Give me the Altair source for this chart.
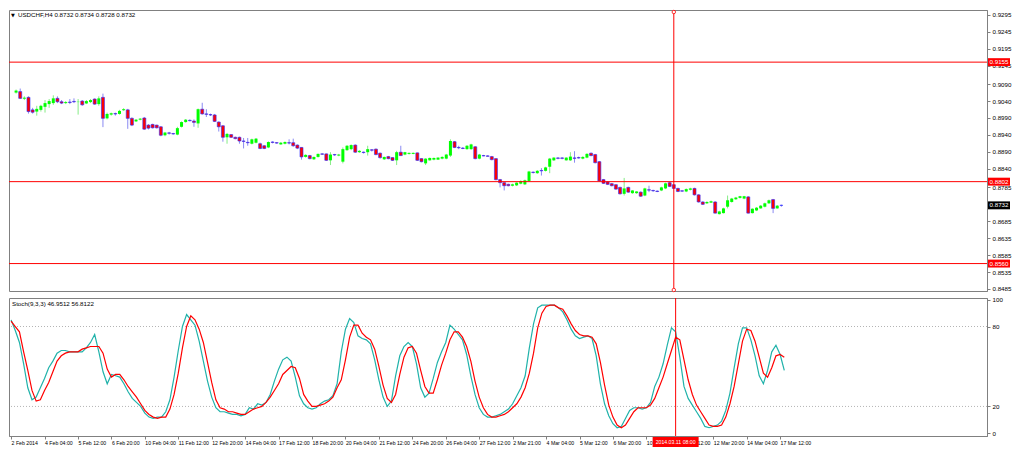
import altair as alt
import pandas as pd

# ---------------- data ----------------
OPEN = [0.9065,0.9068,0.9047,0.9051,0.9014,0.9009,0.9014,0.9023,0.9031,0.9034,
        0.9048,0.9038,0.9034,0.9037,0.9039,0.9037,0.9040,0.9033,0.9037,0.9046,
        0.9031,0.9051,0.8989,0.9000,0.9003,0.9002,0.9013,0.9014,0.8989,0.8980,
        0.8985,0.8990,0.8969,0.8971,0.8969,0.8964,0.8939,0.8946,0.8944,0.8941,
        0.8964,0.8978,0.8983,0.8981,0.8974,0.9016,0.9002,0.9000,0.8999,0.8978,
        0.8967,0.8933,0.8941,0.8933,0.8933,0.8922,0.8918,0.8914,0.8917,0.8914,
        0.8908,0.8903,0.8919,0.8917,0.8912,0.8914,0.8917,0.8917,0.8910,0.8903,
        0.8875,0.8879,0.8868,0.8875,0.8884,0.8884,0.8865,0.8882,0.8879,0.8861,
        0.8895,0.8898,0.8910,0.8889,0.8889,0.8889,0.8896,0.8898,0.8886,0.8868,
        0.8876,0.8873,0.8865,0.8889,0.8882,0.8884,0.8884,0.8887,0.8870,0.8856,
        0.8865,0.8867,0.8867,0.8870,0.8870,0.8879,0.8920,0.8903,0.8901,0.8898,
        0.8898,0.8905,0.8870,0.8879,0.8878,0.8876,0.8870,0.8808,0.8799,0.8794,
        0.8790,0.8791,0.8796,0.8794,0.8804,0.8830,0.8827,0.8835,0.8834,0.8846,
        0.8865,0.8872,0.8872,0.8865,0.8865,0.8872,0.8873,0.8870,0.8873,0.8886,
        0.8882,0.8861,0.8808,0.8801,0.8796,0.8793,0.8785,0.8766,0.8785,0.8768,
        0.8768,0.8771,0.8761,0.8778,0.8776,0.8774,0.8776,0.8782,0.8799,0.8793,
        0.8782,0.8775,0.8773,0.8778,0.8782,0.8763,0.8742,0.8738,0.8740,0.8742,
        0.8706,0.8709,0.8728,0.8742,0.8750,0.8754,0.8752,0.8757,0.8709,0.8717,
        0.8723,0.8728,0.8738,0.8749,0.8723,0.8732]
HIGH = [0.9074,0.9077,0.9054,0.9054,0.9020,0.9026,0.9029,0.9043,0.9046,0.9057,
        0.9054,0.9043,0.9040,0.9046,0.9048,0.9046,0.9043,0.9043,0.9046,0.9048,
        0.9054,0.9062,0.9006,0.9006,0.9006,0.9014,0.9019,0.9017,0.8992,0.8987,
        0.8990,0.8993,0.8972,0.8973,0.8970,0.8966,0.8949,0.8949,0.8946,0.8964,
        0.8980,0.8987,0.8986,0.8986,0.9018,0.9035,0.9016,0.9003,0.9002,0.8980,
        0.8969,0.8946,0.8942,0.8935,0.8935,0.8931,0.8931,0.8929,0.8931,0.8917,
        0.8910,0.8921,0.8921,0.8919,0.8919,0.8921,0.8927,0.8929,0.8912,0.8904,
        0.8883,0.8881,0.8876,0.8885,0.8886,0.8885,0.8889,0.8884,0.8884,0.8903,
        0.8910,0.8912,0.8912,0.8895,0.8891,0.8908,0.8898,0.8900,0.8888,0.8876,
        0.8878,0.8874,0.8893,0.8908,0.8890,0.8888,0.8888,0.8888,0.8871,0.8871,
        0.8873,0.8873,0.8874,0.8877,0.8884,0.8927,0.8922,0.8908,0.8904,0.8910,
        0.8914,0.8907,0.8884,0.8881,0.8880,0.8878,0.8871,0.8810,0.8800,0.8796,
        0.8796,0.8800,0.8806,0.8808,0.8834,0.8832,0.8836,0.8842,0.8846,0.8872,
        0.8874,0.8874,0.8874,0.8874,0.8889,0.8892,0.8876,0.8877,0.8886,0.8888,
        0.8884,0.8863,0.8810,0.8803,0.8798,0.8794,0.8787,0.8813,0.8787,0.8777,
        0.8774,0.8773,0.8784,0.8790,0.8778,0.8776,0.8787,0.8799,0.8801,0.8794,
        0.8784,0.8776,0.8782,0.8784,0.8784,0.8765,0.8744,0.8744,0.8746,0.8744,
        0.8716,0.8725,0.8761,0.8754,0.8757,0.8760,0.8760,0.8759,0.8723,0.8727,
        0.8733,0.8740,0.8749,0.8751,0.8733,0.8734]
LOW = [0.9062,0.9046,0.9043,0.9003,0.9003,0.8997,0.9009,0.9006,0.9020,0.9029,
       0.9034,0.9031,0.9031,0.9031,0.9034,0.9000,0.9026,0.9031,0.9034,0.9029,
       0.9026,0.8963,0.8986,0.8997,0.8997,0.9000,0.9011,0.8958,0.8966,0.8978,
       0.8983,0.8955,0.8956,0.8959,0.8959,0.8936,0.8936,0.8941,0.8941,0.8939,
       0.8962,0.8976,0.8980,0.8964,0.8961,0.9000,0.8993,0.8996,0.8978,0.8950,
       0.8920,0.8914,0.8931,0.8927,0.8914,0.8900,0.8908,0.8912,0.8915,0.8898,
       0.8898,0.8901,0.8915,0.8914,0.8911,0.8912,0.8912,0.8905,0.8898,0.8867,
       0.8873,0.8868,0.8866,0.8873,0.8881,0.8863,0.8851,0.8878,0.8877,0.8856,
       0.8893,0.8895,0.8887,0.8887,0.8885,0.8879,0.8891,0.8880,0.8870,0.8866,
       0.8868,0.8863,0.8851,0.8878,0.8880,0.8882,0.8883,0.8863,0.8859,0.8851,
       0.8864,0.8865,0.8866,0.8868,0.8868,0.8875,0.8901,0.8898,0.8898,0.8896,
       0.8896,0.8868,0.8868,0.8877,0.8876,0.8865,0.8806,0.8785,0.8776,0.8788,
       0.8788,0.8789,0.8794,0.8792,0.8802,0.8826,0.8825,0.8820,0.8832,0.8827,
       0.8863,0.8868,0.8868,0.8864,0.8863,0.8858,0.8870,0.8868,0.8871,0.8877,
       0.8856,0.8802,0.8795,0.8792,0.8788,0.8778,0.8764,0.8761,0.8769,0.8766,
       0.8766,0.8757,0.8759,0.8771,0.8772,0.8771,0.8774,0.8780,0.8786,0.8780,
       0.8771,0.8772,0.8771,0.8776,0.8761,0.8740,0.8733,0.8736,0.8739,0.8708,
       0.8705,0.8708,0.8723,0.8740,0.8748,0.8752,0.8750,0.8708,0.8708,0.8715,
       0.8722,0.8726,0.8736,0.8709,0.8722,0.8728]
CLOSE = [0.9071,0.9048,0.9050,0.9009,0.9007,0.9017,0.9026,0.9034,0.9040,0.9048,
         0.9038,0.9034,0.9037,0.9036,0.9038,0.9038,0.9029,0.9040,0.9043,0.9031,
         0.9048,0.8989,0.9002,0.9004,0.9002,0.9011,0.9016,0.8989,0.8969,0.8985,
         0.8988,0.8957,0.8960,0.8961,0.8961,0.8939,0.8947,0.8945,0.8943,0.8960,
         0.8978,0.8985,0.8982,0.8977,0.9016,0.9002,0.9001,0.8999,0.8980,0.8964,
         0.8933,0.8943,0.8933,0.8929,0.8922,0.8921,0.8917,0.8927,0.8929,0.8900,
         0.8900,0.8919,0.8918,0.8916,0.8917,0.8919,0.8916,0.8908,0.8901,0.8875,
         0.8881,0.8870,0.8875,0.8884,0.8883,0.8865,0.8882,0.8881,0.8882,0.8898,
         0.8908,0.8910,0.8889,0.8893,0.8888,0.8898,0.8895,0.8882,0.8873,0.8875,
         0.8870,0.8865,0.8889,0.8879,0.8889,0.8887,0.8887,0.8865,0.8861,0.8870,
         0.8872,0.8872,0.8873,0.8875,0.8882,0.8922,0.8903,0.8902,0.8900,0.8908,
         0.8912,0.8870,0.8882,0.8878,0.8877,0.8867,0.8808,0.8799,0.8790,0.8790,
         0.8794,0.8799,0.8804,0.8806,0.8832,0.8829,0.8834,0.8834,0.8844,0.8870,
         0.8873,0.8871,0.8871,0.8873,0.8876,0.8871,0.8872,0.8875,0.8884,0.8879,
         0.8858,0.8804,0.8797,0.8794,0.8790,0.8780,0.8766,0.8782,0.8771,0.8776,
         0.8773,0.8759,0.8782,0.8777,0.8775,0.8773,0.8785,0.8797,0.8788,0.8782,
         0.8773,0.8774,0.8780,0.8782,0.8763,0.8742,0.8735,0.8742,0.8744,0.8709,
         0.8714,0.8723,0.8747,0.8752,0.8755,0.8759,0.8759,0.8709,0.8722,0.8725,
         0.8731,0.8738,0.8747,0.8723,0.8731,0.8732]
STOCH_K = [85,77,68,52,34,25,27,34,41,49,54,60,62,62,61,61,61,61,64,68,
           74,61,46,37,44,43,42,37,31,26,23,20,15,12,11,12,12,16,25,42,
           62,80,89,85,81,69,54,39,27,19,16,16,15,14,14,13,14,19,18,22,
           21,23,29,39,48,55,57,54,42,28,22,19,18,19,22,24,25,28,37,61,
           78,86,83,73,71,70,67,55,40,27,20,24,43,58,65,68,65,52,34,27,
           30,41,53,61,68,81,78,74,70,59,43,29,19,14,12,12,13,14,16,18,
           22,28,34,43,64,82,94,96,96,96,96,94,91,85,78,73,71,72,73,71,
           58,37,22,13,7,4,5,11,17,19,19,18,19,23,35,42,52,66,79,76,
           57,35,26,21,16,11,5,4,5,6,9,17,30,49,67,79,79,70,58,43,
           37,47,61,66,59,47]
STOCH_D = [84,80,76,61,47,32,24,25,32,38,46,54,58,60,61,61,61,63,64,65,
           65,65,60,48,42,44,44,40,35,31,27,22,17,14,12,11,12,12,18,29,
           45,64,80,88,85,78,68,53,38,25,19,18,16,16,15,14,14,16,18,19,
           20,23,27,32,37,44,47,50,49,41,29,24,20,20,21,22,24,27,34,40,
           55,72,81,81,75,72,70,63,50,36,26,23,29,44,57,64,65,60,47,35,
           30,30,40,51,60,70,76,76,72,65,54,39,27,19,14,12,12,13,14,16,
           19,22,27,34,45,60,79,90,95,96,96,94,93,88,82,77,74,73,73,72,
           67,53,36,21,12,6,4,6,11,16,19,19,19,21,26,34,42,52,62,72,
           70,55,40,29,21,16,11,6,5,5,6,12,22,35,52,69,78,77,69,57,
           45,42,49,58,59,57]
DATE_LABELS = ["2 Feb 2014", "4 Feb 04:00", "5 Feb 12:00", "6 Feb 20:00",
               "10 Feb 04:00", "11 Feb 12:00", "12 Feb 20:00", "14 Feb 04:00",
               "17 Feb 12:00", "18 Feb 20:00", "20 Feb 04:00", "21 Feb 12:00",
               "24 Feb 20:00", "26 Feb 04:00", "27 Feb 12:00", "2 Mar 21:00",
               "4 Mar 04:00", "5 Mar 12:00", "6 Mar 20:00", "10 Mar 04:00",
               "11 Mar 12:00", "12 Mar 20:00", "14 Mar 04:00", "17 Mar 12:00"]
LABEL_STEP = 8
PRICE_TICKS = [0.9295, 0.9245, 0.9195, 0.9145, 0.9090, 0.9040, 0.8990, 0.8940,
               0.8890, 0.8840, 0.8785, 0.8685, 0.8635, 0.8585, 0.8535, 0.8485]
H_LEVELS = [0.9155, 0.8802, 0.8560]
LAST_PRICE = 0.8732
MARKER_BAR = 159
MARKER_TEXT = "2014.03.11 08:00"
STOCH_LEVELS = [20, 80]
STOCH_TICKS = [0, 20, 80, 100]
PRICE_TITLE = "USDCHF,H4  0.8732 0.8734 0.8728 0.8732"
STOCH_TITLE = "Stoch(9,3,3) 46.9512 56.8122"

# ---------------- layout ----------------
W = 978
H1 = 281
H2 = 138
FONT = "Liberation Sans"
FS = 6.2
FSX = 5.2

n = len(OPEN)
df = pd.DataFrame({"i": list(range(n)), "open": OPEN, "high": HIGH,
                   "low": LOW, "close": CLOSE})
df["dir"] = ["up" if c > o else "down" for o, c in zip(OPEN, CLOSE)]
st = pd.DataFrame({"i": list(range(len(STOCH_K))), "k": STOCH_K, "d": STOCH_D})

xscale = alt.Scale(domain=[-0.5, 233.5], nice=False, zero=False)
pscale = alt.Scale(domain=[0.8479, 0.9309], nice=False, zero=False)
sscale = alt.Scale(domain=[-2.2, 101.4], nice=False, zero=False)

X = alt.X("i:Q", scale=xscale, axis=None)
price_axis = alt.Axis(orient="right", values=PRICE_TICKS, format=".4f", grid=False,
                      title=None, tickSize=3, labelPadding=2, labelFontSize=FS,
                      labelFont=FONT, labelOverlap=False, labelFlush=False)


def PY(field):
    return alt.Y(field, scale=pscale, axis=price_axis)


base = alt.Chart(df)
wicks = base.mark_rule(strokeWidth=1).encode(
    x=X, y=PY("low:Q"), y2="high:Q",
    color=alt.Color("dir:N", scale=alt.Scale(domain=["up", "down"],
                                             range=["#86ec86", "#8a8af2"]), legend=None),
)
up_bodies = base.transform_filter(alt.datum.dir == "up").mark_bar(
    size=3, color="#00ff00").encode(x=X, y=PY("open:Q"), y2="close:Q")
down_bodies = base.transform_filter(alt.datum.dir == "down").mark_bar(
    size=3, fill="#ff0000", stroke="#2a2aff", strokeWidth=0.6).encode(
    x=X, y=PY("open:Q"), y2="close:Q")

levels = alt.Chart(pd.DataFrame({"p": H_LEVELS})).mark_rule(
    color="#ff0000", strokeWidth=1).encode(y=PY("p:Q"))
vline1 = alt.Chart(pd.DataFrame({"i": [MARKER_BAR]})).mark_rule(
    color="#ff0000", strokeWidth=1).encode(x=X)
circ_top = alt.Chart(pd.DataFrame({"i": [MARKER_BAR]})).mark_point(
    shape="circle", size=12, filled=True, fill="white", stroke="#ff0000",
    strokeWidth=0.8, opacity=1).encode(x=X, y=alt.value(2))
circ_bot = alt.Chart(pd.DataFrame({"i": [MARKER_BAR]})).mark_point(
    shape="circle", size=12, filled=True, fill="white", stroke="#ff0000",
    strokeWidth=0.8, opacity=1).encode(x=X, y=alt.value(H1 - 1))

box_shape = "M-1,-0.36L1,-0.36L1,0.36L-1,0.36Z"
lab_df = pd.DataFrame({"p": H_LEVELS + [LAST_PRICE],
                       "kind": ["level"] * len(H_LEVELS) + ["last"]})
lab_df["txt"] = [f"{v:.4f}" for v in lab_df["p"]]
boxes = alt.Chart(lab_df).mark_point(shape=box_shape, size=484, filled=True,
                                     opacity=1, strokeWidth=0).encode(
    x=alt.value(W + 12), y=PY("p:Q"),
    fill=alt.Fill("kind:N", scale=alt.Scale(domain=["level", "last"],
                                            range=["#ff0000", "#000000"]), legend=None))
box_txt = alt.Chart(lab_df).mark_text(color="white", fontSize=FS, font=FONT,
                                      align="center", baseline="middle").encode(
    x=alt.value(W + 12), y=PY("p:Q"), text="txt:N")

ptitle_icon = alt.Chart(pd.DataFrame({"t": ["\u25bc"]})).mark_text(
    align="left", baseline="top", fontSize=5, font="DejaVu Sans", color="#000000").encode(
    x=alt.value(2), y=alt.value(3), text="t:N")
ptitle = alt.Chart(pd.DataFrame({"t": [PRICE_TITLE]})).mark_text(
    align="left", baseline="top", fontSize=FS, font=FONT, color="#000000").encode(
    x=alt.value(9), y=alt.value(2), text="t:N")

price = alt.layer(wicks, up_bodies, down_bodies, levels, vline1, circ_top, circ_bot,
                  boxes, box_txt, ptitle_icon, ptitle).properties(width=W, height=H1)

# ---------------- stochastic panel ----------------
label_expr = "[" + ",".join("'" + s + "'" for s in DATE_LABELS) + \
    "][round(datum.value/" + str(LABEL_STEP) + ")]"
x_axis = alt.Axis(orient="bottom", values=[k * LABEL_STEP for k in range(len(DATE_LABELS))],
                  labelExpr=label_expr, labelAlign="left", labelFontSize=FSX, labelFont=FONT,
                  tickSize=3, labelPadding=1, grid=False, title=None,
                  labelOverlap=False, labelFlush=False)
XS = alt.X("i:Q", scale=xscale, axis=x_axis)
stoch_axis = alt.Axis(orient="right", values=STOCH_TICKS, grid=False, title=None,
                      tickSize=3, labelPadding=2, labelFontSize=FS, labelFont=FONT,
                      labelOverlap=False, labelFlush=False)


def SY(field):
    return alt.Y(field, scale=sscale, axis=stoch_axis)


slev = alt.Chart(pd.DataFrame({"v": STOCH_LEVELS})).mark_rule(
    color="#b4b4b4", strokeWidth=1, strokeDash=[1, 2]).encode(y=SY("v:Q"))
kline = alt.Chart(st).mark_line(color="#20b2aa", strokeWidth=1.2).encode(
    x=XS, y=SY("k:Q"))
dline = alt.Chart(st).mark_line(color="#ff0000", strokeWidth=1.2).encode(
    x=XS, y=SY("d:Q"))
vline2 = alt.Chart(pd.DataFrame({"i": [MARKER_BAR]})).mark_rule(
    color="#ff0000", strokeWidth=1).encode(x=XS)
stitle = alt.Chart(pd.DataFrame({"t": [STOCH_TITLE]})).mark_text(
    align="left", baseline="top", fontSize=FS, font=FONT, color="#000000").encode(
    x=alt.value(3), y=alt.value(3), text="t:N")
date_box = alt.Chart(pd.DataFrame({"i": [MARKER_BAR]})).mark_point(
    shape="M-1,-0.22L1,-0.22L1,0.22L-1,0.22Z", size=2116, filled=True,
    fill="#ff0000", opacity=1, strokeWidth=0).encode(x=XS, y=alt.value(H2 + 6))
date_txt = alt.Chart(pd.DataFrame({"i": [MARKER_BAR], "t": [MARKER_TEXT]})).mark_text(
    color="white", fontSize=FSX, font=FONT, align="center", baseline="middle").encode(
    x=XS, y=alt.value(H2 + 6), text="t:N")

stoch = alt.layer(slev, kline, dline, vline2, stitle, date_box, date_txt).properties(
    width=W, height=H2)

chart = alt.vconcat(price, stoch, spacing=2).properties(
    padding={"left": 0, "top": 0, "right": 0, "bottom": 0}, background="white"
).configure_view(stroke="#808080", strokeWidth=1).configure_axis(
    domainColor="#808080", tickColor="#808080", labelColor="#000000",
    labelOverlap=False)

chart.save("out.html", embed_options={"renderer": "svg", "actions": False})
